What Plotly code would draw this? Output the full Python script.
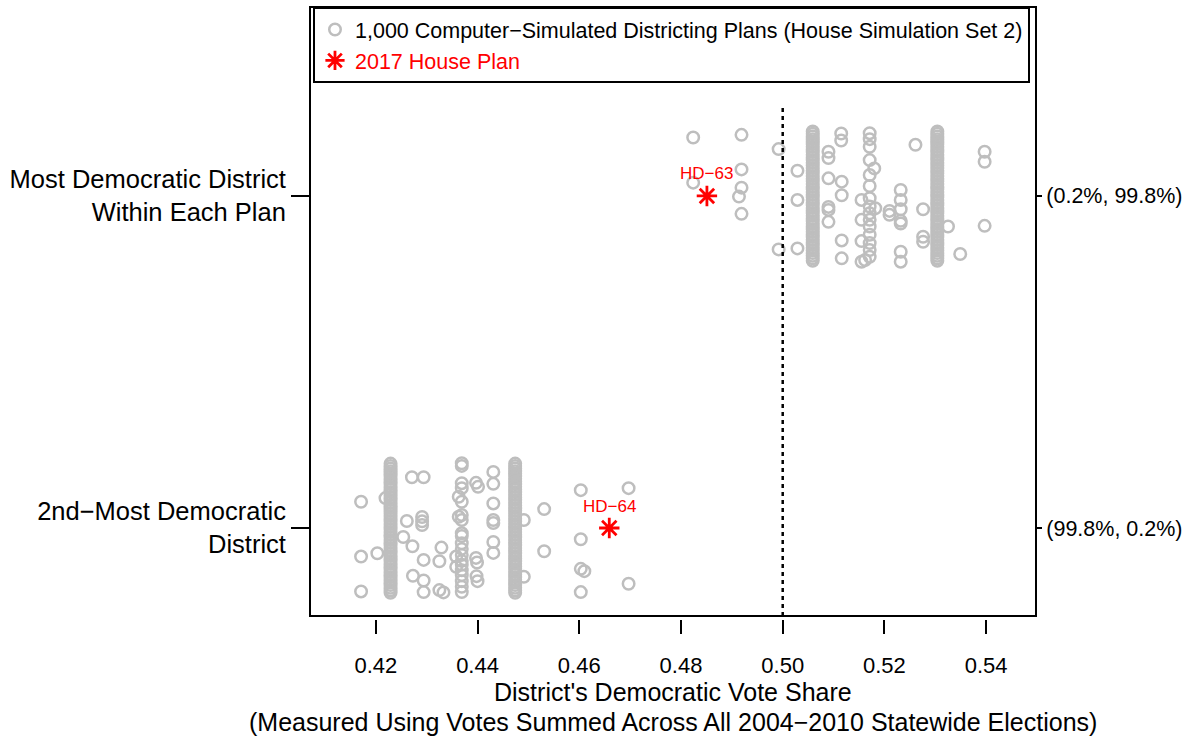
import plotly.graph_objects as go

# ---------------- data ----------------
category_pos = [1, 2]
left_labels = ["2nd−Most Democratic<br>District", "Most Democratic District<br>Within Each Plan"]
right_labels = ["(99.8%, 0.2%)", "(0.2%, 99.8%)"]
x_ticks = [0.42, 0.44, 0.46, 0.48, 0.50, 0.52, 0.54]

# densely packed simulated values (hundreds of plans at the same vote share)
top_column_values = [0.5059, 0.5304]
bottom_column_values = [0.4229, 0.4474]
column_jitter = [0.194, 0.187, 0.179, 0.171, 0.164, 0.156, 0.148, 0.140, 0.132, 0.124,
                 0.116, 0.108, 0.100, 0.092, 0.084, 0.076, 0.068, 0.060, 0.052, 0.044,
                 0.036, 0.028, 0.020, 0.012, 0.004, -0.004, -0.012, -0.020, -0.028, -0.036,
                 -0.044, -0.052, -0.060, -0.068, -0.076, -0.084, -0.092, -0.100, -0.108, -0.116,
                 -0.124, -0.132, -0.140, -0.148, -0.156, -0.164, -0.172, -0.180, -0.188, -0.195]

# scattered simulated values, most Democratic district
top_values = [0.4824, 0.4919, 0.4992, 0.4824, 0.4919, 0.4919, 0.4914, 0.4919, 0.5029, 0.5029,
              0.4992, 0.5029, 0.5090, 0.5090, 0.5090, 0.5090, 0.5090, 0.5090, 0.5115, 0.5115,
              0.5116, 0.5116, 0.5116, 0.5116, 0.5155, 0.5155, 0.5155, 0.5155,
              0.5171, 0.5171, 0.5171, 0.5171, 0.5171, 0.5171, 0.5171, 0.5171, 0.5171, 0.5171,
              0.5171, 0.5171, 0.5171, 0.5171, 0.5171, 0.5162,
              0.5180, 0.5182, 0.5210, 0.5210,
              0.5232, 0.5232, 0.5232, 0.5232, 0.5232, 0.5232, 0.5232,
              0.5261, 0.5276, 0.5276, 0.5276, 0.5325, 0.5349, 0.5397, 0.5397, 0.5397]
top_jitter = [0.176, 0.184, 0.141, 0.040, 0.080, 0.025, -0.002, -0.054, 0.076, -0.012,
              -0.161, -0.158, 0.133, 0.114, 0.053, -0.033, -0.042, -0.078, 0.188, 0.167,
              0.043, 0.002, -0.134, -0.188, -0.012, -0.072, -0.136, -0.198,
              0.189, 0.171, 0.148, 0.108, 0.063, 0.030, -0.007, -0.032, -0.052, -0.072,
              -0.092, -0.117, -0.142, -0.163, -0.183, -0.193,
              0.083, -0.037, -0.045, -0.057,
              0.018, -0.012, -0.040, -0.075, -0.083, -0.168, -0.198,
              0.154, -0.040, -0.123, -0.138, -0.092, -0.175, 0.133, 0.103, -0.090]

# scattered simulated values, 2nd-most Democratic district
bottom_values = [0.4171, 0.4171, 0.4171, 0.4203, 0.4219, 0.4271, 0.4294, 0.4261, 0.4291, 0.4291,
                 0.4291, 0.4254, 0.4272, 0.4294, 0.4273, 0.4294, 0.4294, 0.4329, 0.4325, 0.4325,
                 0.4333,
                 0.4369, 0.4369, 0.4369, 0.4369, 0.4369, 0.4369, 0.4369, 0.4369, 0.4369, 0.4369,
                 0.4369, 0.4369, 0.4369, 0.4369, 0.4369, 0.4369, 0.4369, 0.4369, 0.4369,
                 0.4363, 0.4363, 0.4358, 0.4358,
                 0.4397, 0.4401, 0.4397, 0.4399, 0.4398, 0.4400,
                 0.4431, 0.4431, 0.4431, 0.4431, 0.4431, 0.4431, 0.4431,
                 0.4491, 0.4491, 0.4531, 0.4531, 0.4603, 0.4603, 0.4603, 0.4610, 0.4603,
                 0.4697, 0.4697]
bottom_jitter = [0.079, -0.086, -0.191, -0.076, 0.090, 0.153, 0.153, 0.021, 0.033, 0.020,
                 0.009, -0.027, -0.055, -0.096, -0.144, -0.158, -0.193, -0.059, -0.100, -0.187,
                 -0.194,
                 0.195, 0.187, 0.135, 0.120, 0.079, 0.039, 0.024, -0.016, -0.024, -0.046,
                 -0.063, -0.081, -0.099, -0.111, -0.127, -0.142, -0.160, -0.177, -0.193,
                 0.094, 0.034, -0.086, -0.117,
                 0.136, 0.124, -0.090, -0.104, -0.145, -0.160,
                 0.169, 0.133, 0.074, 0.024, 0.015, -0.042, -0.075,
                 0.024, -0.147, 0.057, -0.070, 0.114, -0.034, -0.123, -0.130, -0.193,
                 0.120, -0.168]

# 2017 enacted House plan
plan_values = [0.4659, 0.4851]
plan_labels = ["HD−64", "HD−63"]

# ---------------- figure ----------------
GRAY = "#BEBEBE"
FONT = "Liberation Sans, Arial, Helvetica, sans-serif"
Y_RANGE = [0.735, 2.569]
X_RANGE = [0.40706, 0.5498]

circle = dict(symbol="circle-open", size=11.5, color=GRAY, line=dict(width=2.5, color=GRAY))

fig = go.Figure()

fig.add_trace(go.Scatter(
    x=top_values, y=[category_pos[1] + j for j in top_jitter], mode="markers",
    marker=circle, name="1,000 Computer−Simulated Districting Plans (House Simulation Set 2)",
    showlegend=True, hoverinfo="skip"))
fig.add_trace(go.Scatter(
    x=bottom_values, y=[category_pos[0] + j for j in bottom_jitter], mode="markers",
    marker=circle, showlegend=False, hoverinfo="skip"))
for v in top_column_values:
    fig.add_trace(go.Scatter(x=[v] * len(column_jitter),
                             y=[category_pos[1] + j for j in column_jitter],
                             mode="markers", marker=circle, showlegend=False, hoverinfo="skip"))
for v in bottom_column_values:
    fig.add_trace(go.Scatter(x=[v] * len(column_jitter),
                             y=[category_pos[0] + j for j in column_jitter],
                             mode="markers", marker=circle, showlegend=False, hoverinfo="skip"))

fig.add_trace(go.Scatter(
    x=plan_values, y=category_pos, mode="markers", yaxis="y2",
    marker=dict(symbol="asterisk-open", size=17, color="red", line=dict(width=2.8, color="red")),
    name='<span style="color:red">2017 House Plan</span>', showlegend=True))

plan_annotations = [
    dict(text=lab, x=v, y=c, xref="x", yref="y", yshift=22, xanchor="center", yanchor="middle",
         showarrow=False, font=dict(color="red", size=17))
    for v, c, lab in zip(plan_values, category_pos, plan_labels)
]

plot_h = 742 - 7 - 123
fig.update_layout(
    width=1190, height=742,
    margin=dict(l=310, r=152, t=7, b=123, pad=0),
    paper_bgcolor="white", plot_bgcolor="white",
    font=dict(family=FONT, color="black"),
    xaxis=dict(range=X_RANGE, anchor="free", position=0, tickvals=x_ticks, tickformat=".2f",
               ticks="outside", ticklen=14, tickwidth=2, tickcolor="black",
               tickfont=dict(size=22), ticklabelstandoff=13,
               showgrid=False, zeroline=False, showline=False),
    yaxis=dict(range=Y_RANGE, domain=[3 / plot_h, 1], tickvals=category_pos, ticktext=left_labels,
               ticks="outside", ticklen=18, tickwidth=2, tickcolor="black",
               tickfont=dict(size=25.5), showgrid=False, zeroline=False, showline=False),
    yaxis2=dict(range=Y_RANGE, overlaying="y", side="right", anchor="x",
                tickvals=category_pos, ticktext=right_labels,
                ticks="outside", ticklen=5, tickwidth=2, tickcolor="black",
                tickfont=dict(size=21.5), showgrid=False, zeroline=False, showline=False),
    legend=dict(x=3 / 728, y=1, xanchor="left", yanchor="top",
                bordercolor="black", borderwidth=2, bgcolor="white",
                font=dict(size=21.5, color="black"), tracegroupgap=0),
    shapes=[
        dict(type="line", xref="x", yref="y", x0=0.5, x1=0.5, y0=Y_RANGE[0], y1=2.265,
             line=dict(color="black", width=2.5, dash="4px,4px"), layer="above"),
        dict(type="rect", xref="x domain", yref="y domain", x0=0, x1=1, y0=0, y1=1,
             line=dict(color="black", width=2), layer="above"),
    ],
    annotations=plan_annotations + [
        dict(text="District's Democratic Vote Share", xref="paper", yref="paper",
             x=0.5, y=0, yshift=-73, xanchor="center", yanchor="middle", showarrow=False,
             font=dict(size=25)),
        dict(text="(Measured Using Votes Summed Across All 2004−2010 Statewide Elections)",
             xref="paper", yref="paper", x=0.5, y=0, yshift=-103, xanchor="center",
             yanchor="middle", showarrow=False, font=dict(size=25)),
    ],
)

fig.write_html("out.html", config={"displayModeBar": False},
               post_script="document.body.style.margin='0px';")
